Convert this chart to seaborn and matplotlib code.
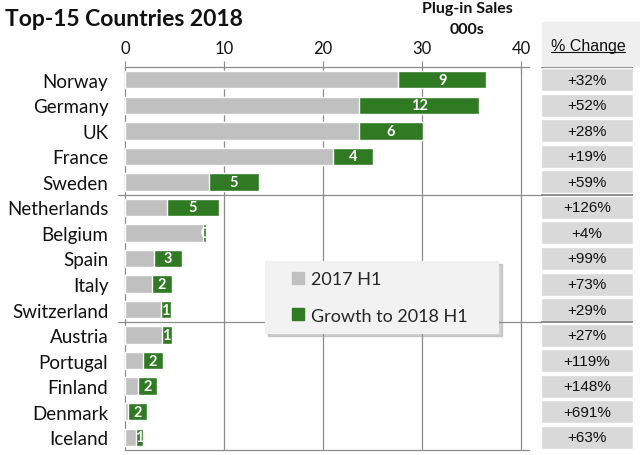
import pandas as pd
import matplotlib
matplotlib.use("Agg")
import matplotlib.pyplot as plt
import seaborn as sns
from matplotlib.lines import Line2D
from matplotlib.patches import Rectangle

# data (thousands of plug-in sales)
countries = ["Norway", "Germany", "UK", "France", "Sweden",
             "Netherlands", "Belgium", "Spain", "Italy", "Switzerland",
             "Austria", "Portugal", "Finland", "Denmark", "Iceland"]
sales_2017_h1 = [27.6, 23.6, 23.6, 21.0, 8.5,
                 4.2, 7.9, 2.9, 2.7, 3.6,
                 3.7, 1.8, 1.3, 0.3, 1.1]
growth_2018_h1 = [8.9, 12.2, 6.5, 4.0, 5.0,
                  5.3, 0.3, 2.9, 2.0, 1.0,
                  1.0, 2.0, 1.9, 1.9, 0.7]
growth_labels = ["9", "12", "6", "4", "5", "5", "0", "3", "2", "1",
                 "1", "2", "2", "2", "1"]
pct_change = ["+32%", "+52%", "+28%", "+19%", "+59%",
              "+126%", "+4%", "+99%", "+73%", "+29%",
              "+27%", "+119%", "+148%", "+691%", "+63%"]

df = pd.DataFrame({"Country": countries,
                   "H1_2017": sales_2017_h1,
                   "Growth": growth_2018_h1})
df["H1_2018"] = df["H1_2017"] + df["Growth"]

GRAY = "#c0c0c0"
GREEN = "#2f7a23"
LINE = "#8c8c8c"

sns.set_style("white")
plt.rcParams["font.family"] = ["Lato", "DejaVu Sans"]

fig = plt.figure(figsize=(6.4, 4.56), dpi=100)
ax = fig.add_axes([125 / 640, 1 - 451 / 456, 404 / 640, 383 / 456])

# stacked bars: full 2018 bar in green, 2017 part drawn on top in gray
sns.barplot(data=df, y="Country", x="H1_2018", color=GREEN, width=0.68,
            saturation=1, label="Growth to 2018 H1", ax=ax, zorder=3)
sns.barplot(data=df, y="Country", x="H1_2017", color=GRAY, width=0.68,
            saturation=1, label="2017 H1", ax=ax, zorder=3)

# growth labels in the middle of the green part
for i, row in df.iterrows():
    ax.text(row["H1_2017"] + row["Growth"] / 2, i, growth_labels[i],
            ha="center", va="center", color="white", fontsize=10.5,
            fontweight="bold", zorder=4)

ax.set_xlim(0, 40.8)
ax.set_ylim(14.5, -0.5)
ax.set_xticks([0, 10, 20, 30, 40])
ax.xaxis.tick_top()
ax.tick_params(axis="x", which="both", direction="inout", length=8,
               color=LINE, labelsize=12, pad=4, labelcolor="#111111")
ax.tick_params(axis="y", length=0, labelsize=13.5, pad=12, labelcolor="#111111")
ax.set_xlabel("")
ax.set_ylabel("")
for x in [10, 20, 30, 40]:
    ax.axvline(x, color=LINE, lw=0.9, zorder=1)
for side in ["top", "bottom", "left"]:
    ax.spines[side].set_color(LINE)
    ax.spines[side].set_linewidth(0.9)
ax.spines["right"].set_visible(False)

# group separators running through to the table
for yy in [4.5, 9.5]:
    ax.axhline(yy, xmin=-7 / 404, xmax=1 + 12 / 404, color=LINE, lw=0.9,
               clip_on=False, zorder=1)

# legend
handles = [Line2D([], [], ls="none", marker="s", markersize=8,
                  color=GRAY),
           Line2D([], [], ls="none", marker="s", markersize=8,
                  color=GREEN)]
leg = ax.legend(handles, ["2017 H1", "Growth to 2018 H1"],
                loc="upper left", bbox_to_anchor=(0.3465, 0.2835, 0.579, 0.21),
                mode="expand", borderaxespad=0, fontsize=13, handlelength=2.6,
                handletextpad=-0.6, labelspacing=1.15, borderpad=0.55,
                frameon=True, fancybox=False,
                shadow={"color": "0.6", "alpha": 0.45})
leg.get_frame().set_facecolor("#f2f2f2")
leg.get_frame().set_edgecolor("none")
leg.get_frame().set_alpha(1)
leg.set_zorder(5)

# % change table on the right
ax2 = fig.add_axes([541 / 640, 1 - 451 / 456, 92 / 640, 383 / 456])
ax2.barh(range(len(countries)), 1, height=0.9, left=0, color="#d9d9d9")
for i, p in enumerate(pct_change):
    ax2.text(0.5, i, p, ha="center", va="center", fontsize=11,
             family="Liberation Sans", color="#111111")
ax2.set_xlim(0, 1)
ax2.set_ylim(14.5, -0.5)
for yy in [-0.5, 4.5, 9.5]:
    ax2.axhline(yy, color="#7a7a7a", lw=1.2)
ax2.axis("off")

fig.add_artist(Rectangle((542 / 640, 1 - 67 / 456), 98 / 640, 44 / 456,
                         transform=fig.transFigure, color="#efefef", zorder=0))
hdr = fig.text(588 / 640, 1 - 46 / 456, "% Change", ha="center", va="center",
               fontsize=11.5, family="Liberation Sans", color="#111111")

# titles
fig.text(5 / 640, 1 - 20 / 456, "Top-15 Countries 2018", ha="left",
         va="center", fontsize=16.5, fontweight="bold", color="#111111")
fig.text(467 / 640, 1 - 9 / 456, "Plug-in Sales", ha="center", va="center",
         fontsize=11.5, fontweight="bold", color="#111111")
fig.text(467 / 640, 1 - 30 / 456, "000s", ha="center", va="center",
         fontsize=11.5, fontweight="bold", color="#111111")

# underline the table header
fig.canvas.draw()
bb = hdr.get_window_extent().transformed(fig.transFigure.inverted())
fig.add_artist(Line2D([bb.x0, bb.x1], [bb.y0 + 0.002, bb.y0 + 0.002],
                      transform=fig.transFigure, color="#111111", lw=0.8))

fig.savefig("out.png", dpi=100)
